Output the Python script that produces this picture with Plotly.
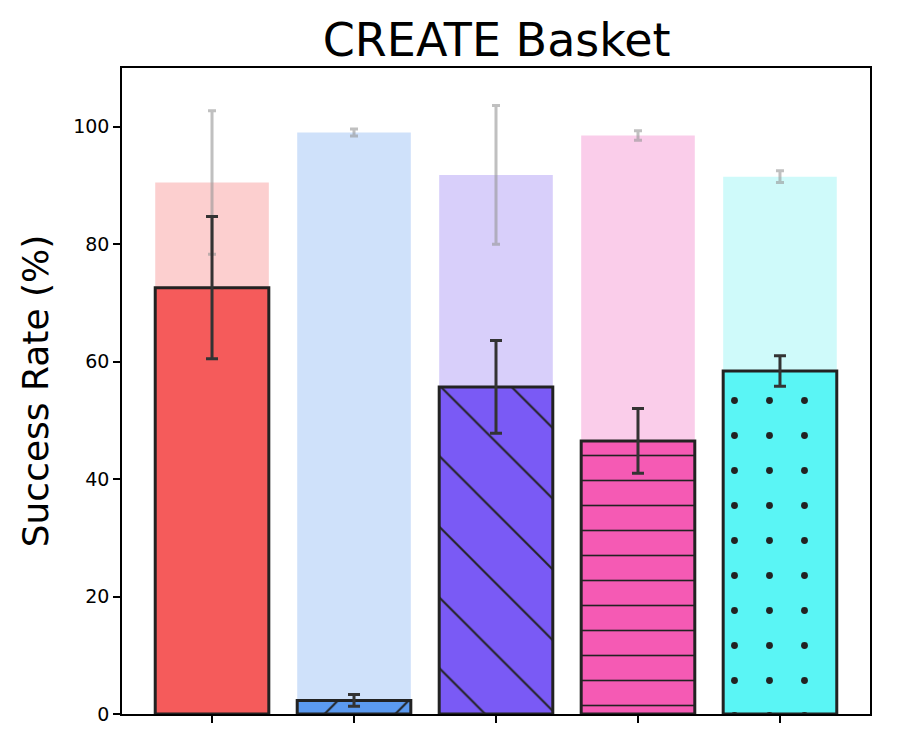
import plotly.graph_objects as go

categories = ["A", "B", "C", "D", "E"]
bg_values = [90.5, 99.0, 91.8, 98.5, 91.5]
bg_errors = [12.2, 0.6, 11.8, 0.8, 1.0]
fg_values = [72.6, 2.3, 55.7, 46.5, 58.4]
fg_errors = [12.1, 1.0, 7.9, 5.5, 2.6]
fg_colors = ["#F55B5B", "#5B9AF0", "#7A5AF5", "#F55AB4", "#5AF5F5"]
bg_colors = ["#FCCFCF", "#CFE1FA", "#D8CFFA", "#FACDEA", "#CFFAFA"]
hatches = ["", "/", "\\", "-", "."]
hatch_sizes = [10, 50, 50, 25, 35]
hatch_solidity = [0.1, 0.04, 0.04, 0.065, 0.03]
yticks = [0, 20, 40, 60, 80, 100]

x = list(range(len(categories)))
font = "DejaVu Sans"

fig = go.Figure()
fig.add_trace(go.Bar(
    x=x, y=bg_values, width=0.8,
    marker=dict(color=bg_colors, line=dict(width=0)),
    error_y=dict(type="data", array=bg_errors, color="rgba(150,150,150,0.6)",
                 thickness=3, width=4),
    showlegend=False,
))
for i in x:
    fig.add_trace(go.Bar(
        x=[i], y=[fg_values[i]], width=0.8,
        marker=dict(color=fg_colors[i],
                    line=dict(color="#222222", width=3),
                    pattern=dict(shape=hatches[i], size=hatch_sizes[i],
                                 solidity=hatch_solidity[i], fgcolor="#222222",
                                 fgopacity=1, bgcolor=fg_colors[i],
                                 fillmode="overlay")),
        error_y=dict(type="data", array=[fg_errors[i]], color="#333333",
                     thickness=3, width=6),
        showlegend=False,
    ))

fig.update_layout(
    width=900, height=750,
    barmode="overlay",
    plot_bgcolor="white", paper_bgcolor="white",
    margin=dict(l=114, r=38, t=60, b=44),
    font=dict(family=font, color="black"),
    title=dict(text="CREATE Basket", font=dict(family=font, size=46, color="black"),
               x=0.543, xanchor="center", y=1 - 32 / 750, yanchor="middle"),
)
fig.update_xaxes(
    range=[-0.634, 4.634], tickvals=x, ticktext=["" for _ in x],
    ticks="outside", ticklen=7, tickwidth=1.5, tickcolor="black",
    showline=True, linecolor="black", linewidth=1.5, mirror=True,
    showgrid=False, zeroline=False,
)
fig.update_yaxes(
    range=[0, 110], tickvals=yticks, ticktext=[str(v) for v in yticks],
    ticks="outside", ticklen=7, tickwidth=1.5, tickcolor="black",
    tickfont=dict(family=font, size=19, color="black"),
    showline=True, linecolor="black", linewidth=1.5, mirror=True,
    showgrid=False, zeroline=False,
    title=dict(text="Success Rate (%)", font=dict(family=font, size=36, color="black"),
               standoff=14),
)

fig.write_html("out.html")
